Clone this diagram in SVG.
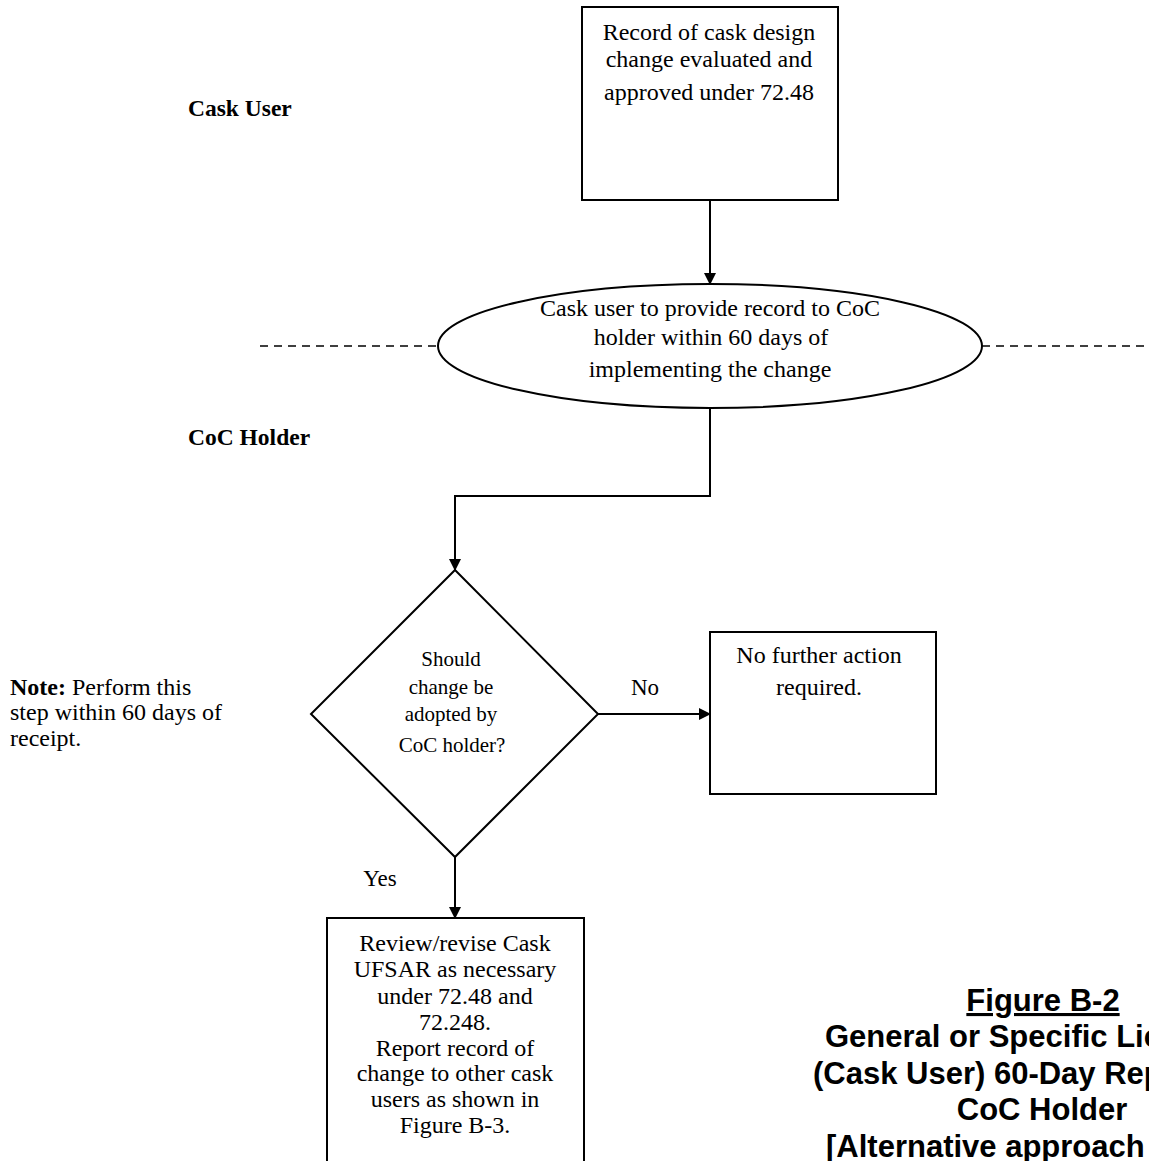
<svg xmlns="http://www.w3.org/2000/svg" width="1149" height="1161" viewBox="0 0 1149 1161">
<defs>
<marker id="ah" markerWidth="12" markerHeight="12" refX="11" refY="6" orient="auto" markerUnits="userSpaceOnUse" viewBox="0 0 12 12">
<path d="M0,0 L12,6 L0,12 z" fill="#000"/>
</marker>
<style>
.shape{fill:#fff;stroke:#000;stroke-width:2}
.t{font-family:"Liberation Serif","Times New Roman",serif;font-size:24px;fill:#000}
.s{font-size:21px}
.c{text-anchor:middle}
.b{font-weight:bold}
.conn{fill:none;stroke:#000;stroke-width:2}
.dash{fill:none;stroke:#000;stroke-width:1.5;stroke-dasharray:8,6}
.title{font-family:"Liberation Sans",Arial,sans-serif;font-size:31px;font-weight:bold;fill:#000}
.tc{text-anchor:middle}
</style>
</defs>
<rect width="1149" height="1161" fill="#fff"/>
<g id="lanes">
<line class="dash" x1="260" y1="346" x2="438" y2="346"/>
<line class="dash" x1="982" y1="346" x2="1149" y2="346"/>
<text class="t b" x="188" y="116" style="font-size:23.5px">Cask User</text>
<text class="t b" x="188" y="445" style="font-size:23.5px">CoC Holder</text>
</g>
<g id="connectors">
<line class="conn" x1="710" y1="200" x2="710" y2="284" marker-end="url(#ah)"/>
<polyline class="conn" points="710,408 710,496 455,496 455,570" marker-end="url(#ah)"/>
<line class="conn" x1="598" y1="714" x2="710" y2="714" marker-end="url(#ah)"/>
<text class="t c" x="645" y="695" style="font-size:23px">No</text>
<line class="conn" x1="455" y1="857" x2="455" y2="918" marker-end="url(#ah)"/>
<text class="t c" x="380" y="886" style="font-size:23px">Yes</text>
</g>
<g id="n1">
<rect class="shape" x="582" y="7" width="256" height="193"/>
<text class="t c" x="709" y="40">Record of cask design</text>
<text class="t c" x="709" y="67">change evaluated and</text>
<text class="t c" x="709" y="100">approved under 72.48</text>
</g>
<g id="n2">
<ellipse class="shape" cx="710" cy="346" rx="272" ry="62"/>
<text class="t c" x="710" y="316">Cask user to provide record to CoC</text>
<text class="t c" x="711" y="345">holder within 60 days of</text>
<text class="t c" x="710" y="377">implementing the change</text>
</g>
<g id="n3">
<polygon class="shape" points="455,570 598,714 455,857 311,714"/>
<text class="t s c" x="451" y="666">Should</text>
<text class="t s c" x="451" y="694">change be</text>
<text class="t s c" x="451" y="721">adopted by</text>
<text class="t s c" x="452" y="752">CoC holder?</text>
</g>
<g id="n4">
<rect class="shape" x="710" y="632" width="226" height="162"/>
<text class="t c" x="819" y="663">No further action</text>
<text class="t c" x="819" y="695">required.</text>
</g>
<g id="n5">
<rect class="shape" x="327" y="918" width="257" height="260"/>
<text class="t c" x="455" y="951">Review/revise Cask</text>
<text class="t c" x="455" y="977">UFSAR as necessary</text>
<text class="t c" x="455" y="1004">under 72.48 and</text>
<text class="t c" x="455" y="1030">72.248.</text>
<text class="t c" x="455" y="1056">Report record of</text>
<text class="t c" x="455" y="1081">change to other cask</text>
<text class="t c" x="455" y="1107">users as shown in</text>
<text class="t c" x="455" y="1133">Figure B-3.</text>
</g>
<g id="note">
<text class="t" x="10" y="695"><tspan class="b">Note:</tspan> Perform this</text>
<text class="t" x="10" y="720">step within 60 days of</text>
<text class="t" x="10" y="746">receipt.</text>
</g>
<g id="caption">
<text class="title tc" x="1043" y="1011" text-decoration="underline">Figure B-2</text>
<text class="title" x="825" y="1047">General or Specific Licensee</text>
<text class="title" x="813" y="1084">(Cask User) 60-Day Report to</text>
<text class="title tc" x="1042" y="1120">CoC Holder</text>
<text class="title" x="826" y="1157">[Alternative approach may</text>
<text class="title" x="932" y="1184">be acceptable]</text>
</g>
</svg>
